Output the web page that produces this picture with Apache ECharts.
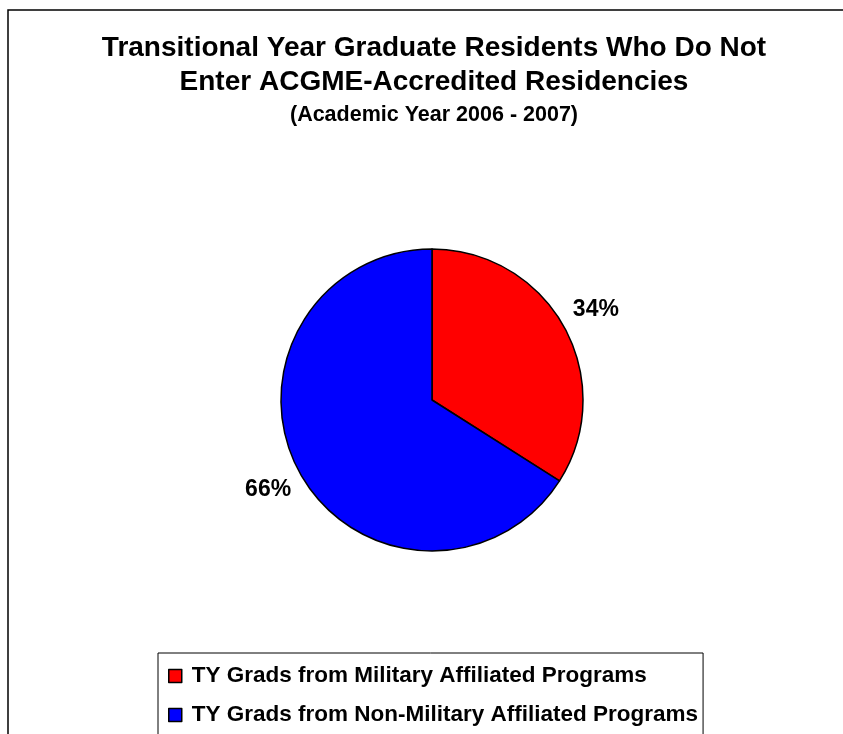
<!DOCTYPE html>
<html>
<head>
<meta charset="utf-8">
<title>TY Graduates pie</title>
<script src="https://cdn.jsdelivr.net/npm/echarts@6/dist/echarts.min.js"></script>
<style>
  html, body { margin: 0; padding: 0; background: #fff; }
  #main { width: 843px; height: 734px; }
</style>
</head>
<body>
<div id="main"></div>
<script>
// data
var categories = ['TY Grads from Military Affiliated Programs', 'TY Grads from Non-Military Affiliated Programs'];
var shares = [34, 66];
var sliceColors = ['#ff0000', '#0000ff'];

var pieData = categories.map(function (name, i) {
  return { name: name, value: shares[i], itemStyle: { color: sliceColors[i] } };
});

var font = '"Liberation Sans", Arial, sans-serif';
var chart = echarts.init(document.getElementById('main'));

var option = {
  animation: false,
  backgroundColor: '#fff',
  graphic: [{
    // outer frame of the chart area
    type: 'rect',
    shape: { x: 8, y: 10, width: 900, height: 800 },
    style: { fill: 'none', stroke: '#000', lineWidth: 1.5 },
    silent: true,
    z: -1
  }],
  title: {
    text: 'Transitional Year Graduate Residents Who Do Not\nEnter ACGME-Accredited Residencies',
    subtext: '(Academic Year 2006 - 2007)',
    left: 434,
    top: 31,
    textAlign: 'center',
    padding: 0,
    itemGap: 4,
    textStyle: { fontFamily: font, fontSize: 28, fontWeight: 'bold', color: '#000', lineHeight: 34.5 },
    subtextStyle: { fontFamily: font, fontSize: 21.5, fontWeight: 'bold', color: '#000', lineHeight: 22 }
  },
  legend: {
    orient: 'vertical',
    left: 158,
    top: 653,
    height: 300,
    padding: [11, 5, 40, 10],
    itemWidth: 13,
    itemHeight: 13,
    itemGap: 15,
    icon: 'rect',
    borderColor: '#000',
    borderWidth: 1,
    selectedMode: false,
    itemStyle: { borderColor: '#000', borderWidth: 1.5 },
    textStyle: { fontFamily: font, fontSize: 22.5, fontWeight: 'bold', color: '#000', lineHeight: 24, padding: [0, 0, 0, 5] },
    data: categories
  },
  series: [{
    name: 'main',
    type: 'pie',
    center: [432, 400],
    radius: 151,
    startAngle: 90,
    clockwise: true,
    label: { show: false },
    labelLine: { show: false },
    itemStyle: { borderColor: '#000', borderWidth: 1.5 },
    emphasis: { disabled: true },
    data: pieData
  }, {
    // same slices, invisible, only to place the percent labels further out
    name: 'labels',
    type: 'pie',
    center: [432, 400],
    radius: [0, 368],
    startAngle: 90,
    clockwise: true,
    silent: true,
    z: 1,
    itemStyle: { color: 'rgba(0,0,0,0)', borderWidth: 0 },
    label: {
      show: true,
      position: 'inside',
      formatter: '{c}%',
      fontFamily: font,
      fontSize: 23,
      fontWeight: 'bold',
      color: '#000'
    },
    labelLine: { show: false },
    emphasis: { disabled: true },
    data: categories.map(function (name, i) { return { name: name, value: shares[i] }; })
  }]
};

chart.setOption(option);
</script>
</body>
</html>
